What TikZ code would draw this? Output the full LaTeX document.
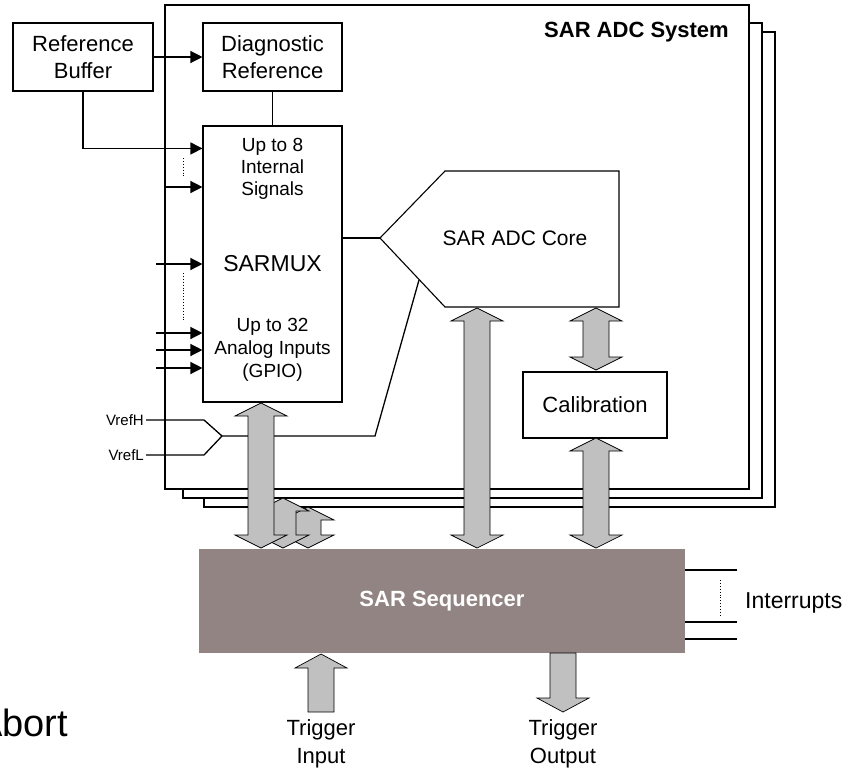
\documentclass[tikz,border=0pt]{standalone}
\usepackage{fontspec}
\setmainfont{Liberation Sans}
\usepackage{xcolor}
\usepackage{tikz}
\usetikzlibrary{positioning,calc,arrows.meta}
\definecolor{SeqBrown}{RGB}{145,132,130}
\definecolor{BusGray}{RGB}{192,192,192}
\tikzset{
	blk/.style={draw, line width=1.1pt, fill=white, inner sep=0pt, align=center, font=\fontsize{22}{27}\selectfont},
	sig/.style={line width=1.3pt, -{Triangle[length=12pt,width=12pt]}},
	wire/.style={line width=1.3pt},
	sysframe/.style={draw, line width=1.1pt, fill=white},
	bus/.style={draw, line width=0.7pt, fill=BusGray},
	dots/.style={line width=0.9pt, dotted},
	lbl/.style={align=center, inner sep=0pt},
}
% block arrows: x, top, bottom
\newcommand{\busboth}[3]{%
	\filldraw[bus] (#1,#2) -- (#1+26,#2+13) -- (#1+13,#2+13) -- (#1+13,#3-13) -- (#1+26,#3-13) -- (#1,#3)
		-- (#1-26,#3-13) -- (#1-13,#3-13) -- (#1-13,#2+13) -- (#1-26,#2+13) -- cycle;
}
\newcommand{\busup}[3]{%
	\filldraw[bus] (#1,#2) -- (#1+26,#2+14) -- (#1+13,#2+14) -- (#1+13,#3) -- (#1-13,#3) -- (#1-13,#2+14) -- (#1-26,#2+14) -- cycle;
}
\newcommand{\busdown}[3]{%
	\filldraw[bus] (#1-13,#2) -- (#1+13,#2) -- (#1+13,#3-14) -- (#1+26,#3-14) -- (#1,#3) -- (#1-26,#3-14) -- (#1-13,#3-14) -- cycle;
}

\begin{document}
\begin{tikzpicture}[x=1pt,y=-1pt]
	\useasboundingbox (0,0) rectangle (842,769);

	% stacked system frames
	\filldraw[sysframe] (204,32) rectangle (775,507);
	\filldraw[sysframe] (183,23) rectangle (762,498);
	\filldraw[sysframe] (165,5) rectangle (749,489);
	\node[anchor=east, inner sep=0pt, font=\fontsize{22}{26}\selectfont\bfseries] (sysname) at (729,32) {SAR ADC System};

	% blocks
	\node[blk, minimum width=140pt, minimum height=68pt] (refbuf) at (83,57) {Reference\\Buffer};
	\node[blk, minimum width=139pt, minimum height=68pt] (diagref) at (272.5,57) {Diagnostic\\Reference};
	\node[blk, minimum width=139pt, minimum height=276pt, font=\fontsize{23}{27}\selectfont] (mux) at (272.5,264) {SARMUX};
	\node[lbl, font=\fontsize{19}{22}\selectfont] (int8) at (272.5,169) {Up to 8\\Internal\\Signals};
	\node[lbl, font=\fontsize{19}{23}\selectfont] (gpio) at (272.5,350) {Up to 32\\Analog Inputs\\(GPIO)};
	\node[blk, minimum width=144pt, minimum height=66pt] (calib) at (595,405) {Calibration};

	% ADC core
	\coordinate (adctip) at (380,238);
	\coordinate (adclow) at (419,280);
	\draw[wire, line width=1.1pt] (adctip) -- (445,171) -- (619,171) -- (619,307) -- (445,307) -- cycle;
	\node[lbl, font=\fontsize{21}{25}\selectfont] (adc) at (515,238) {SAR ADC Core};

	% signals into the mux
	\draw[sig] (refbuf) -- (diagref);
	\draw[wire] (diagref) -- (mux);
	\draw[sig] (refbuf.south) |- ([yshift=-23pt]mux.north west);
	\draw[sig] (166,187) -- (mux.west |- 0,187);
	\draw[sig] (156,264) -- (mux.west);
	\foreach \y in {333,350,368}
		\draw[sig] (156,\y) -- (mux.west |- 0,\y);
	\draw[dots] (183,158) -- (183,177);
	\draw[dots] (183,273) -- (183,321);
	\draw[wire] (mux.east |- adctip) -- (adctip);

	% reference inputs
	\coordinate (vmux) at (222,436);
	\node[anchor=east, inner sep=2pt, font=\fontsize{15}{18}\selectfont] (vrefh) at (146,420) {VrefH};
	\node[anchor=east, inner sep=2pt, font=\fontsize{15}{18}\selectfont] (vrefl) at (146,455) {VrefL};
	\draw[wire] (vrefh.east) -- (204,420) -- (vmux);
	\draw[wire] (vrefl.east) -- (204,455) -- (vmux);
	\draw[wire] (vmux) -- (375,436) -- (adclow);

	% sequencer
	\node[fill=SeqBrown, minimum width=486pt, minimum height=104pt, inner sep=0pt, text=white,
		font=\fontsize{22}{26}\selectfont\bfseries] (seq) at (442,601) {SAR Sequencer};
	\foreach \y in {570,622,639}
		\draw[wire] (seq.east |- 0,\y) -- (737,\y);
	\draw[dots] (720,580) -- (720,617);
	\node[anchor=west, inner sep=0pt, font=\fontsize{23}{27}\selectfont] (irq) at (745,603) {Interrupts};

	% buses
	\busboth{308}{507}{548}
	\busboth{283}{498}{548}
	\busboth{261}{403}{548}
	\busboth{477}{308}{548}
	\busboth{596}{308}{370}
	\busboth{596}{438}{548}
	\busup{321}{654}{712}
	\busdown{563}{653}{712}

	\node[lbl, font=\fontsize{22}{28}\selectfont] (trgin) at (321,744) {Trigger\\Input};
	\node[lbl, font=\fontsize{22}{28}\selectfont] (trgout) at (563,744) {Trigger\\Output};
	\node[anchor=west, inner sep=0pt, font=\fontsize{38}{42}\selectfont] (abort) at (-23,723) {Abort};
\end{tikzpicture}
\end{document}
